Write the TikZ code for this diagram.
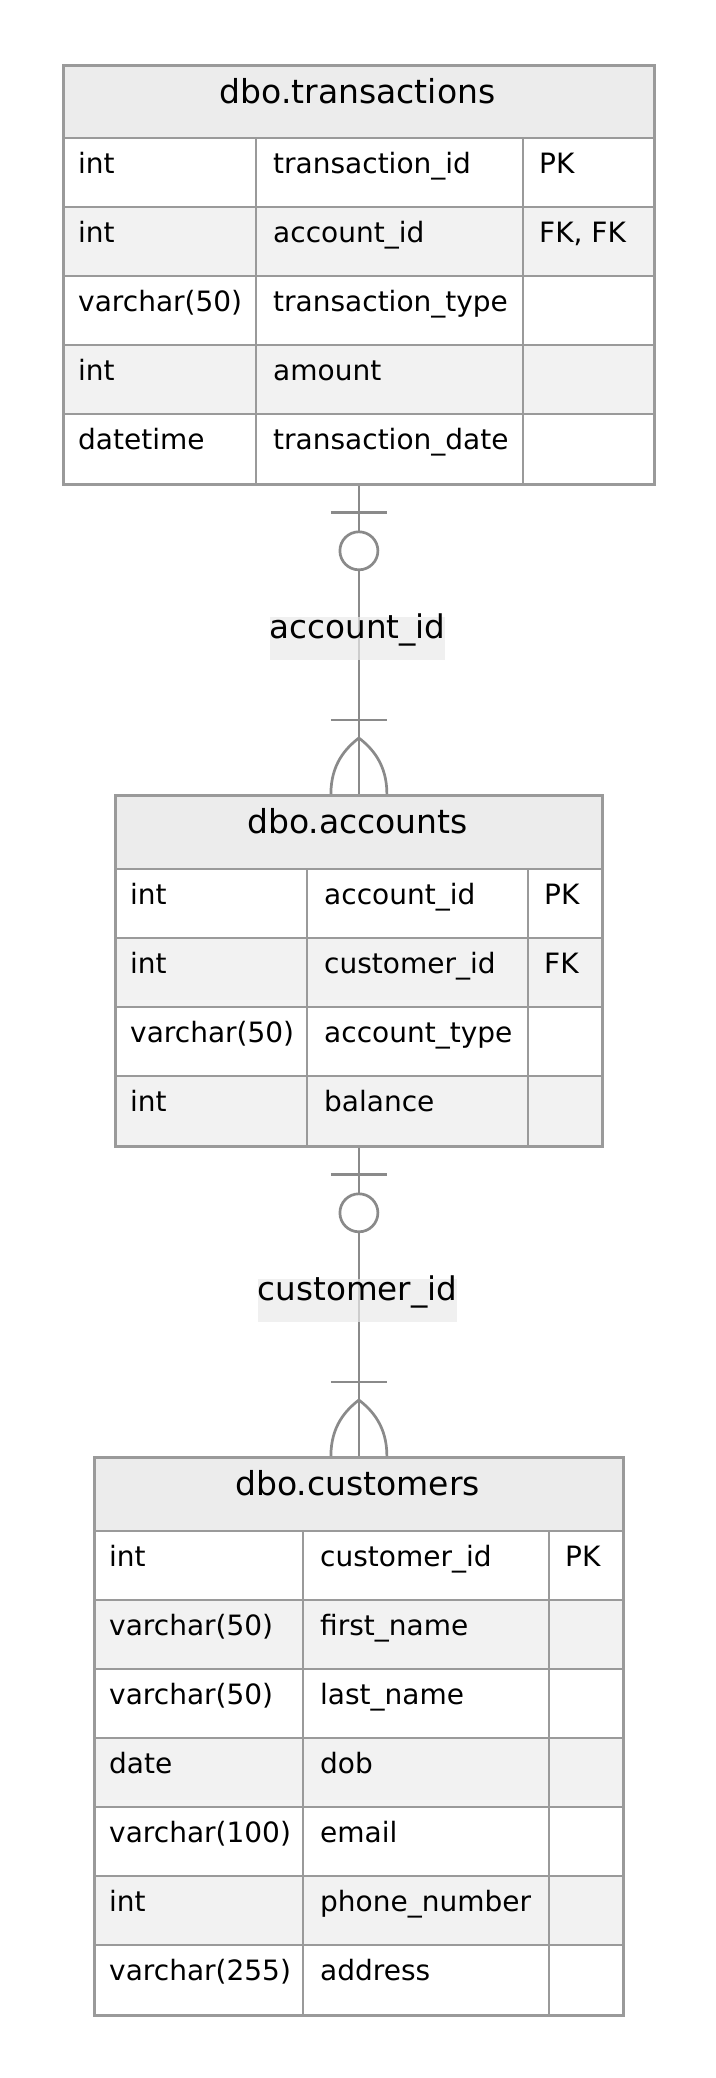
\documentclass[tikz,border=0pt]{standalone}
\usepackage{fontspec}
\setmainfont{DejaVu Sans}
\definecolor{erline}{HTML}{9A9A9A}
\definecolor{erlink}{HTML}{8A8A8A}
\definecolor{erhead}{HTML}{ECECEC}
\definecolor{errow}{HTML}{F2F2F2}
\definecolor{erlabel}{HTML}{EAEAEA}
\tikzset{
  tbl/.style={draw=erline, line width=2.8pt, anchor=north west, inner sep=0pt},
  grid/.style={draw=erline, line width=2.8pt},
  title/.style={anchor=base, font=\fontsize{33}{36}\selectfont, inner sep=0pt},
  cell/.style={anchor=base west, font=\fontsize{28}{32}\selectfont, inner sep=0pt},
  link/.style={draw=erlink, line width=2.7pt},
  lbl/.style={anchor=base, font=\fontsize{32.6}{36}\selectfont, fill=erlabel, fill opacity=0.7,
    text opacity=1, inner xsep=0pt, inner ysep=0pt, text height=21pt, text depth=22pt},
}
\begin{document}
\begin{tikzpicture}[x=1pt, y=-1pt]
    \fill[white] (0,0) rectangle (715,2078);
    \useasboundingbox (0,0) rectangle (715,2078);

    % dbo.transactions
    \fill[erhead] (62,64) rectangle (653,138);
    \foreach \y in {207,345} \fill[errow] (62,\y) rectangle (653,\y+69);
    \foreach \y in {138,207,276,345,414} \draw[grid] (62,\y) -- (653,\y);
    \foreach \x in {256,523} \draw[grid] (\x,138) -- (\x,483);
    \node[tbl, minimum width=591pt, minimum height=419pt] (trans) at (62,64) {};
    \node[title] (trans-title) at (357.5,103) {dbo.transactions};
    \foreach \t/\n/\k [count=\i] in {int/transaction\_id/PK, int/account\_id/{FK, FK},
        varchar(50)/transaction\_type/, int/amount/, datetime/transaction\_date/} {
      \node[cell] (trans-t\i) at (78,104+69*\i) {\t};
      \node[cell] (trans-n\i) at (273,104+69*\i) {\n};
      \node[cell] (trans-k\i) at (539,104+69*\i) {\k};
    }

    % dbo.accounts
    \fill[erhead] (114,794) rectangle (601,869);
    \foreach \y in {938,1076} \fill[errow] (114,\y) rectangle (601,\y+69);
    \foreach \y in {869,938,1007,1076} \draw[grid] (114,\y) -- (601,\y);
    \foreach \x in {307,528} \draw[grid] (\x,869) -- (\x,1145);
    \node[tbl, minimum width=487pt, minimum height=351pt] (acct) at (114,794) {};
    \node[title] (acct-title) at (357.5,833) {dbo.accounts};
    \foreach \t/\n/\k [count=\i] in {int/account\_id/PK, int/customer\_id/FK,
        varchar(50)/account\_type/, int/balance/} {
      \node[cell] (acct-t\i) at (130,835+69*\i) {\t};
      \node[cell] (acct-n\i) at (324,835+69*\i) {\n};
      \node[cell] (acct-k\i) at (544,835+69*\i) {\k};
    }

    % dbo.customers
    \fill[erhead] (93,1456) rectangle (622,1531);
    \foreach \y in {1600,1738,1876} \fill[errow] (93,\y) rectangle (622,\y+69);
    \foreach \y in {1531,1600,1669,1738,1807,1876,1945} \draw[grid] (93,\y) -- (622,\y);
    \foreach \x in {303,549} \draw[grid] (\x,1531) -- (\x,2014);
    \node[tbl, minimum width=529pt, minimum height=558pt] (cust) at (93,1456) {};
    \node[title] (cust-title) at (357.5,1495) {dbo.customers};
    \foreach \t/\n/\k [count=\i] in {int/customer\_id/PK, varchar(50)/first\_name/,
        varchar(50)/last\_name/, date/dob/, varchar(100)/email/, int/phone\_number/,
        varchar(255)/address/} {
      \node[cell] (cust-t\i) at (109,1497+69*\i) {\t};
      \node[cell] (cust-n\i) at (320,1497+69*\i) {\n};
      \node[cell] (cust-k\i) at (565,1497+69*\i) {\k};
    }

    % relations: zero or one to one or many
    \foreach \a/\b in {trans/acct, acct/cust} {
      \draw[link] (\a.south) -- (\b.north);
      \draw[link] ([xshift=-28pt, yshift=-27pt]\a.south) -- ([xshift=28pt, yshift=-27pt]\a.south);
      \draw[link, fill=white] ([yshift=-65pt]\a.south) circle (19pt);
      \draw[link] ([xshift=-28pt, yshift=74pt]\b.north) -- ([xshift=28pt, yshift=74pt]\b.north);
      \draw[link] ([xshift=-28pt]\b.north) .. controls ([xshift=-28pt, yshift=30pt]\b.north)
        and ([xshift=-13pt, yshift=46pt]\b.north) .. ([yshift=56pt]\b.north);
      \draw[link] ([xshift=28pt]\b.north) .. controls ([xshift=28pt, yshift=30pt]\b.north)
        and ([xshift=13pt, yshift=46pt]\b.north) .. ([yshift=56pt]\b.north);
    }
    \node[lbl] (lbl-acct) at (357.5,638) {account\_id};
    \node[lbl] (lbl-cust) at (357.5,1300) {customer\_id};
\end{tikzpicture}
\end{document}
